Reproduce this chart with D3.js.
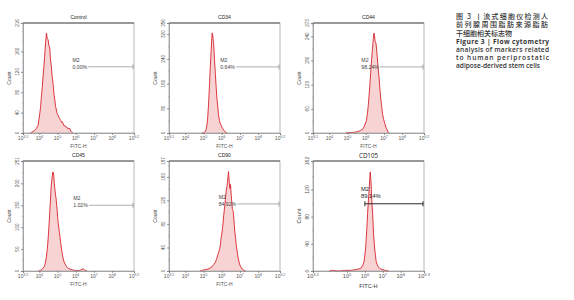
<!DOCTYPE html>
<html>
<head>
<meta charset="utf-8">
<script src="https://cdn.jsdelivr.net/npm/d3@7"></script>
<style>
  body { margin: 0; background: #fff; }
  svg { display: block; font-family: "Liberation Sans", Arial, sans-serif; }
</style>
</head>
<body>
<svg id="chart" width="574" height="300"></svg>
<script>
// panel info
const panelNames = ['Control', 'CD34', 'CD44', 'CD45', 'CD90', 'CD105'];
const yMax = [216, 356, 273, 251, 187, 162];
const yTicks = [
  [0, 40, 80, 120, 160],
  [0, 80, 160, 240, 320],
  [0, 60, 120, 180, 240],
  [0, 50, 100, 150, 200],
  [0, 40, 80, 120, 160],
  [0, 40, 80, 120]
];
const xDomains = [[3.1, 9.2], [3.1, 9.2], [3.1, 9.2], [3.1, 9.2], [3.1, 9.2], [3.1, 9.3]];
const xTickSets = [
  ['3.1', '4', '5', '6', '7', '8', '9.2'],
  ['3.1', '4', '5', '6', '7', '8', '9.2'],
  ['3.1', '4', '5', '6', '7', '8', '9.2'],
  ['3.1', '4', '5', '6', '7', '8', '9.2'],
  ['3.1', '4', '5', '6', '7', '8', '9.2'],
  ['3.1', '5', '6', '7', '8', '9.3']
];
const gatePercent = ['0.00%', '0.64%', '98.24%', '1.02%', '84.92%', '89.14%'];
const gateStart = [6.68, 6.78, 6.78, 6.72, 6.85, 6.0];
const gateLevel = [130, 214, 164, 150, 114, 99];

// histograms: [log10 FITC-H, count]
const controlHist = [[3.5,0],[3.56,1],[3.65,3],[3.74,5],[3.83,9],[3.93,15],[4.02,38],[4.07,52],[4.11,71],[4.16,90],[4.2,110],[4.25,132],[4.29,150],[4.34,178],[4.39,196],[4.43,186],[4.48,183],[4.52,172],[4.57,167],[4.61,145],[4.66,130],[4.7,112],[4.75,97],[4.8,78],[4.85,64],[4.89,52],[4.94,45],[4.98,38],[5.03,35],[5.08,31],[5.12,28],[5.17,25],[5.22,21],[5.26,22],[5.31,18],[5.36,14],[5.4,15],[5.45,12],[5.49,12],[5.54,9],[5.58,10],[5.63,8],[5.67,9],[5.72,4],[5.77,2],[5.82,1],[5.86,0]];
const cd34Hist = [[4.9,0],[5.0,1],[5.05,3],[5.1,6],[5.14,12],[5.19,28],[5.23,52],[5.28,100],[5.33,161],[5.37,215],[5.42,269],[5.45,305],[5.47,324],[5.5,318],[5.53,300],[5.55,290],[5.58,262],[5.6,237],[5.65,190],[5.69,150],[5.73,115],[5.78,85],[5.82,60],[5.87,41],[5.91,32],[5.96,25],[6.01,18],[6.06,14],[6.1,9],[6.15,7],[6.2,3],[6.24,1],[6.3,0]];
const cd44Hist = [[4.9,0],[5.0,1],[5.2,1],[5.4,2],[5.49,3],[5.6,4],[5.7,6],[5.86,11],[5.95,20],[6.04,32],[6.09,48],[6.13,65],[6.18,92],[6.23,123],[6.27,150],[6.32,182],[6.37,210],[6.41,232],[6.44,245],[6.46,248],[6.49,238],[6.51,228],[6.56,223],[6.6,205],[6.63,190],[6.68,160],[6.74,132],[6.78,108],[6.83,82],[6.87,68],[6.92,48],[6.98,34],[7.05,23],[7.1,15],[7.14,11],[7.2,5],[7.24,2],[7.3,0]];
const cd45Hist = [[3.95,0],[4.02,1],[4.08,2],[4.15,4],[4.22,7],[4.28,11],[4.34,20],[4.39,34],[4.44,52],[4.48,73],[4.53,105],[4.57,134],[4.61,162],[4.64,188],[4.69,210],[4.74,226],[4.77,224],[4.79,219],[4.82,200],[4.85,188],[4.89,172],[4.92,165],[4.95,150],[4.97,142],[5.0,125],[5.03,111],[5.07,98],[5.1,88],[5.13,78],[5.16,69],[5.2,55],[5.25,42],[5.3,30],[5.34,23],[5.39,18],[5.43,15],[5.48,11],[5.53,8],[5.6,6],[5.71,4],[5.8,3],[5.89,2],[6.0,1],[6.15,1],[6.26,2],[6.34,4],[6.41,5],[6.47,3],[6.54,1],[6.62,0]];
const cd90Hist = [[4.8,0],[4.9,1],[5.05,2],[5.18,3],[5.3,4],[5.46,7],[5.55,11],[5.65,15],[5.72,21],[5.78,27],[5.84,33],[5.89,38],[5.93,46],[5.96,55],[6.0,63],[6.04,72],[6.08,85],[6.11,95],[6.14,104],[6.17,112],[6.2,122],[6.22,129],[6.25,136],[6.28,143],[6.31,150],[6.33,157],[6.35,162],[6.37,169],[6.39,160],[6.41,152],[6.43,145],[6.45,140],[6.48,147],[6.5,138],[6.52,129],[6.55,118],[6.58,106],[6.61,103],[6.63,101],[6.66,90],[6.69,78],[6.72,66],[6.76,55],[6.8,43],[6.85,32],[6.9,22],[6.95,15],[7.0,10],[7.04,7],[7.13,3],[7.22,1],[7.32,0]];
const cd105Hist = [[4.0,0],[4.2,1],[4.5,0],[4.94,1],[5.2,1],[5.49,2],[5.65,3],[5.77,4],[5.87,8],[5.95,14],[6.0,24],[6.04,34],[6.07,47],[6.1,60],[6.13,73],[6.15,85],[6.18,98],[6.21,110],[6.24,121],[6.26,131],[6.28,140],[6.3,146],[6.32,138],[6.34,131],[6.36,120],[6.37,110],[6.4,97],[6.43,85],[6.46,68],[6.48,55],[6.52,41],[6.56,29],[6.6,20],[6.63,14],[6.68,10],[6.72,7],[6.8,5],[6.87,3],[7.0,2],[7.14,1],[7.33,0]];
const histograms = [controlHist, cd34Hist, cd44Hist, cd45Hist, cd90Hist, cd105Hist];

const captionZh = ['图 3 丨流式细胞仪检测人', '前列腺周围脂肪来源脂肪', '干细胞相关标志物'];
const captionEn = ['Figure 3 | Flow cytometry', 'analysis of markers related', 'to human periprostatic', 'adipose-derived stem cells'];

const svg = d3.select('#chart');
const colLeft = [23, 169, 313];
const rowTop = [23, 161];
const pw = 111, ph = 110;

panelNames.forEach((name, i) => {
  const left = colLeft[i % 3];
  const top = rowTop[Math.floor(i / 3)];
  const bottom = top + ph;
  const alt = i === 5; // CD105 panel rendered in a different style
  const fs = alt ? 5.6 : 5;

  const x = d3.scaleLinear().domain(xDomains[i]).range([left, left + pw]);
  const y = d3.scaleLinear().domain([0, yMax[i]]).range([bottom, top]);
  const g = svg.append('g');

  // histogram
  g.append('path')
    .datum(histograms[i])
    .attr('fill', '#f7d3d3')
    .attr('d', d3.area().x(d => x(d[0])).y0(bottom).y1(d => y(d[1])));
  g.append('path')
    .datum(histograms[i])
    .attr('fill', 'none')
    .attr('stroke', '#d8232c')
    .attr('stroke-width', 0.9)
    .attr('stroke-linejoin', 'round')
    .attr('d', d3.line().x(d => x(d[0])).y(d => y(d[1])));

  // frame
  g.append('rect')
    .attr('x', left).attr('y', top).attr('width', pw).attr('height', ph)
    .attr('fill', 'none').attr('stroke', '#9a9a9a').attr('stroke-width', 0.7);
  g.append('line')
    .attr('x1', left).attr('x2', left + pw).attr('y1', top).attr('y2', top)
    .attr('stroke', '#333').attr('stroke-width', 0.8);

  // y axis
  const step = yTicks[i][1] - yTicks[i][0];
  const minor = d3.range(step / 2, yMax[i], step / 2);
  g.append('g')
    .attr('transform', `translate(${left},0)`)
    .call(d3.axisLeft(y).tickValues(minor).tickSize(1.2).tickFormat(''))
    .call(a => a.select('.domain').remove())
    .selectAll('line').attr('stroke', '#999').attr('stroke-width', 0.5);
  g.append('g')
    .attr('transform', `translate(${left},0)`)
    .call(d3.axisLeft(y).tickValues(yTicks[i].concat([yMax[i]])).tickSize(2).tickFormat(''))
    .call(a => a.select('.domain').attr('stroke', '#888').attr('stroke-width', 0.7))
    .selectAll('line').attr('stroke', '#666').attr('stroke-width', 0.6);
  g.selectAll('.ylab')
    .data(yTicks[i].concat([yMax[i]]))
    .join('text')
    .attr('transform', d => `translate(${left - 4},${y(d)}) rotate(-90)`)
    .attr('text-anchor', 'middle')
    .attr('font-size', fs - 0.4)
    .attr('fill', '#555')
    .text(d => d);
  g.append('text')
    .attr('transform', `translate(${left - 12},${(top + bottom) / 2}) rotate(-90)`)
    .attr('text-anchor', 'middle')
    .attr('font-size', fs)
    .attr('fill', '#444')
    .text('Count');

  // x axis
  g.append('g')
    .attr('transform', `translate(0,${bottom})`)
    .call(d3.axisBottom(x).tickValues(xTickSets[i].map(Number)).tickSize(2).tickFormat(''))
    .call(a => a.select('.domain').attr('stroke', '#888').attr('stroke-width', 0.7))
    .selectAll('line').attr('stroke', '#666').attr('stroke-width', 0.6);
  const xl = g.selectAll('.xlab')
    .data(xTickSets[i])
    .join('text')
    .attr('x', d => x(+d))
    .attr('y', bottom + 7)
    .attr('text-anchor', 'middle')
    .attr('font-size', fs)
    .attr('fill', '#555');
  xl.append('tspan').text('10');
  xl.append('tspan').attr('dy', -2).attr('font-size', fs - 1.6).text(d => d);
  g.append('text')
    .attr('x', (left + left + pw) / 2)
    .attr('y', bottom + (alt ? 17 : 15))
    .attr('text-anchor', 'middle')
    .attr('font-size', fs)
    .attr('fill', alt ? '#333' : '#555')
    .text('FITC-H');

  // title
  g.append('text')
    .attr('x', (left + left + pw) / 2)
    .attr('y', top - (alt ? 3 : 4))
    .attr('text-anchor', 'middle')
    .attr('font-size', alt ? 6.2 : fs)
    .attr('font-family', alt ? '"Open Sans", sans-serif' : null)
    .attr('fill', '#222')
    .text(name);

  // M2 gate marker
  const gx0 = x(gateStart[i]);
  const gx1 = left + pw - 1;
  const gy = y(gateLevel[i]);
  const gateColor = alt ? '#111' : '#777';
  const gw = alt ? 0.9 : 0.6;
  g.append('line').attr('x1', gx0).attr('x2', gx1).attr('y1', gy).attr('y2', gy)
    .attr('stroke', gateColor).attr('stroke-width', gw);
  g.append('line').attr('x1', gx1).attr('x2', gx1).attr('y1', gy - 2.5).attr('y2', gy + 2.5)
    .attr('stroke', gateColor).attr('stroke-width', gw);
  if (alt) {
    g.append('line').attr('x1', gx0).attr('x2', gx0).attr('y1', gy - 2.5).attr('y2', gy + 2.5)
      .attr('stroke', gateColor).attr('stroke-width', gw);
  }
  const pct = g.append('text')
    .attr('font-size', alt ? 5.8 : 5.2)
    .attr('fill', alt ? '#222' : '#444')
    .text(gatePercent[i]);
  if (alt) {
    pct.attr('x', gx0 - 4).attr('y', gy - 5.5);
  } else {
    pct.attr('x', gx0 - 1).attr('y', gy + 2).attr('text-anchor', 'end');
  }
  const bx = pct.node().getBBox().x;
  g.append('text')
    .attr('x', bx)
    .attr('y', alt ? gy - 12.5 : gy - 5)
    .attr('font-size', alt ? 5.8 : 5.2)
    .attr('fill', alt ? '#222' : '#444')
    .text('M2');
});

// caption
const cap = svg.append('g').attr('fill', '#333');
captionZh.forEach((t, k) => {
  const el = cap.append('text')
    .attr('x', 456).attr('y', 19 + k * 8.4)
    .attr('font-size', 7)
    .attr('font-weight', 500)
    .attr('font-family', '"Noto Sans CJK SC", sans-serif')
    .text(t);
  if (k < 2) el.attr('textLength', 92).attr('lengthAdjust', 'spacing');
});
captionEn.forEach((t, k) => {
  const el = cap.append('text')
    .attr('x', 456).attr('y', 44 + k * 8.1)
    .attr('font-size', 6.6)
    .attr('font-weight', k === 0 ? 700 : 600)
    .attr('font-family', '"Open Sans", sans-serif')
    .text(t);
  el.attr('textLength', k < 3 ? 93 : 84).attr('lengthAdjust', 'spacing');
});
</script>
</body>
</html>
